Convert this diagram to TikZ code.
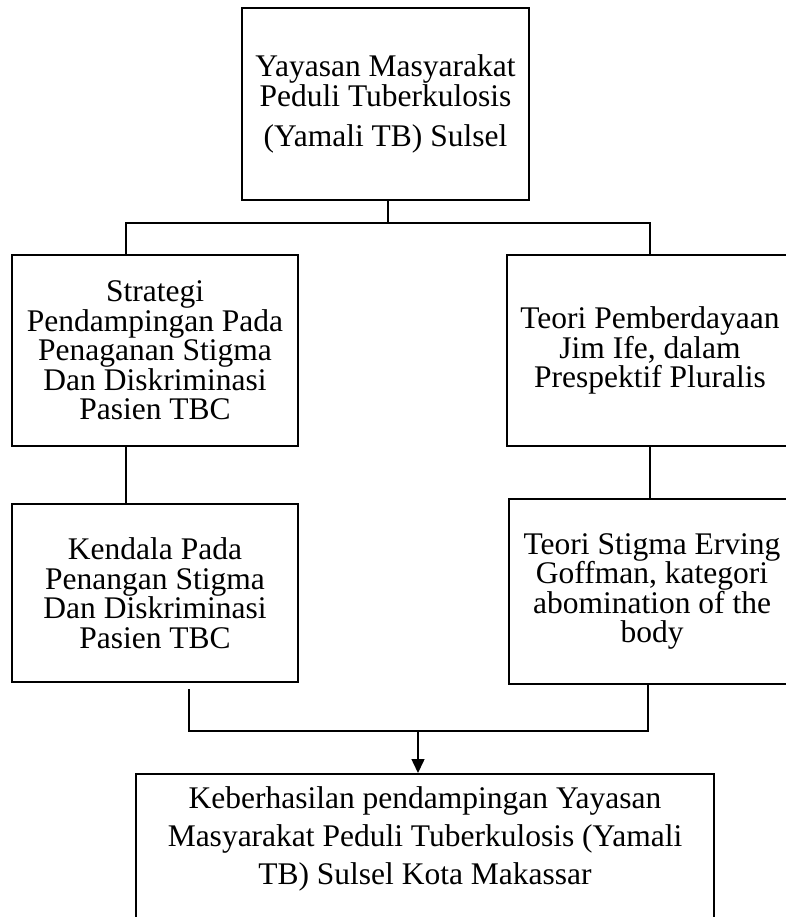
\documentclass[tikz,border=0pt]{standalone}
\usepackage{fontspec}
\setmainfont{Liberation Serif}
\usetikzlibrary{arrows.meta}
\begin{document}
\begin{tikzpicture}[x=1pt,y=-1pt,
  box/.style={draw, line width=2.8pt, rectangle, inner sep=0pt, align=center, font=\fontsize{31.5}{29.5}\selectfont},
  thinbox/.style={draw, line width=1.5pt, rectangle, inner sep=0pt},
  thicklink/.style={line width=2.8pt},
  thinlink/.style={line width=1.5pt}]
\useasboundingbox (0,0) rectangle (786,917);
\clip (0,0) rectangle (786,917);
\node[box, minimum width=287pt, minimum height=192pt, font=\fontsize{31.5}{28}\selectfont] (top) at (385.5,104) {Yayasan Masyarakat\\Peduli Tuberkulosis\\[12pt](Yamali TB) Sulsel};
\node[box, minimum width=286pt, minimum height=191pt] (lb1) at (155,350.5) {Strategi\\Pendampingan Pada\\Penaganan Stigma\\Dan Diskriminasi\\Pasien TBC};
\node[box, minimum width=286pt, minimum height=191pt] (rb1) at (650,350.5) {Teori Pemberdayaan\\Jim Ife, dalam\\Prespektif Pluralis};
\node[box, minimum width=286pt, minimum height=178pt] (lb2) at (155,593) {Kendala Pada\\Penangan Stigma\\Dan Diskriminasi\\Pasien TBC};
\node[box, minimum width=286pt, minimum height=185pt] (rb2) at (652,591.5) {Teori Stigma Erving\\Goffman, kategori\\abomination of the\\body};
\node[thinbox, anchor=north] (bot) at (425,773) {\begin{minipage}[t][170pt][t]{578pt}\centering\fontsize{31.5}{38}\selectfont\vspace*{13pt}Keberhasilan pendampingan Yayasan\\Masyarakat Peduli Tuberkulosis (Yamali\\TB) Sulsel Kota Makassar\end{minipage}};
% upper connectors
\coordinate (tj) at (388,223);
\coordinate (lj) at (126,223);
\coordinate (rj) at (650,223);
\draw[thicklink] (tj |- top.south) -- (tj);
\draw[thicklink] (lj |- lb1.north) -- (lj) -- (rj) -- (rj |- rb1.north);
\draw[thicklink] (lj |- lb1.south) -- (lj |- lb2.north);
\draw[thicklink] (rb1.south) -- (rb1.south |- rb2.north);
% lower connectors
\coordinate (jl) at (189,689);
\coordinate (jr) at (648,684);
\coordinate (jm) at (418,731);
\draw[thinlink] (jl) -- (jl |- jm) -- (jr |- jm) -- (jr);
\draw[thinlink, -{Triangle[width=13pt,length=14pt]}] (jm) -- (jm |- bot.north);
\end{tikzpicture}
\end{document}
